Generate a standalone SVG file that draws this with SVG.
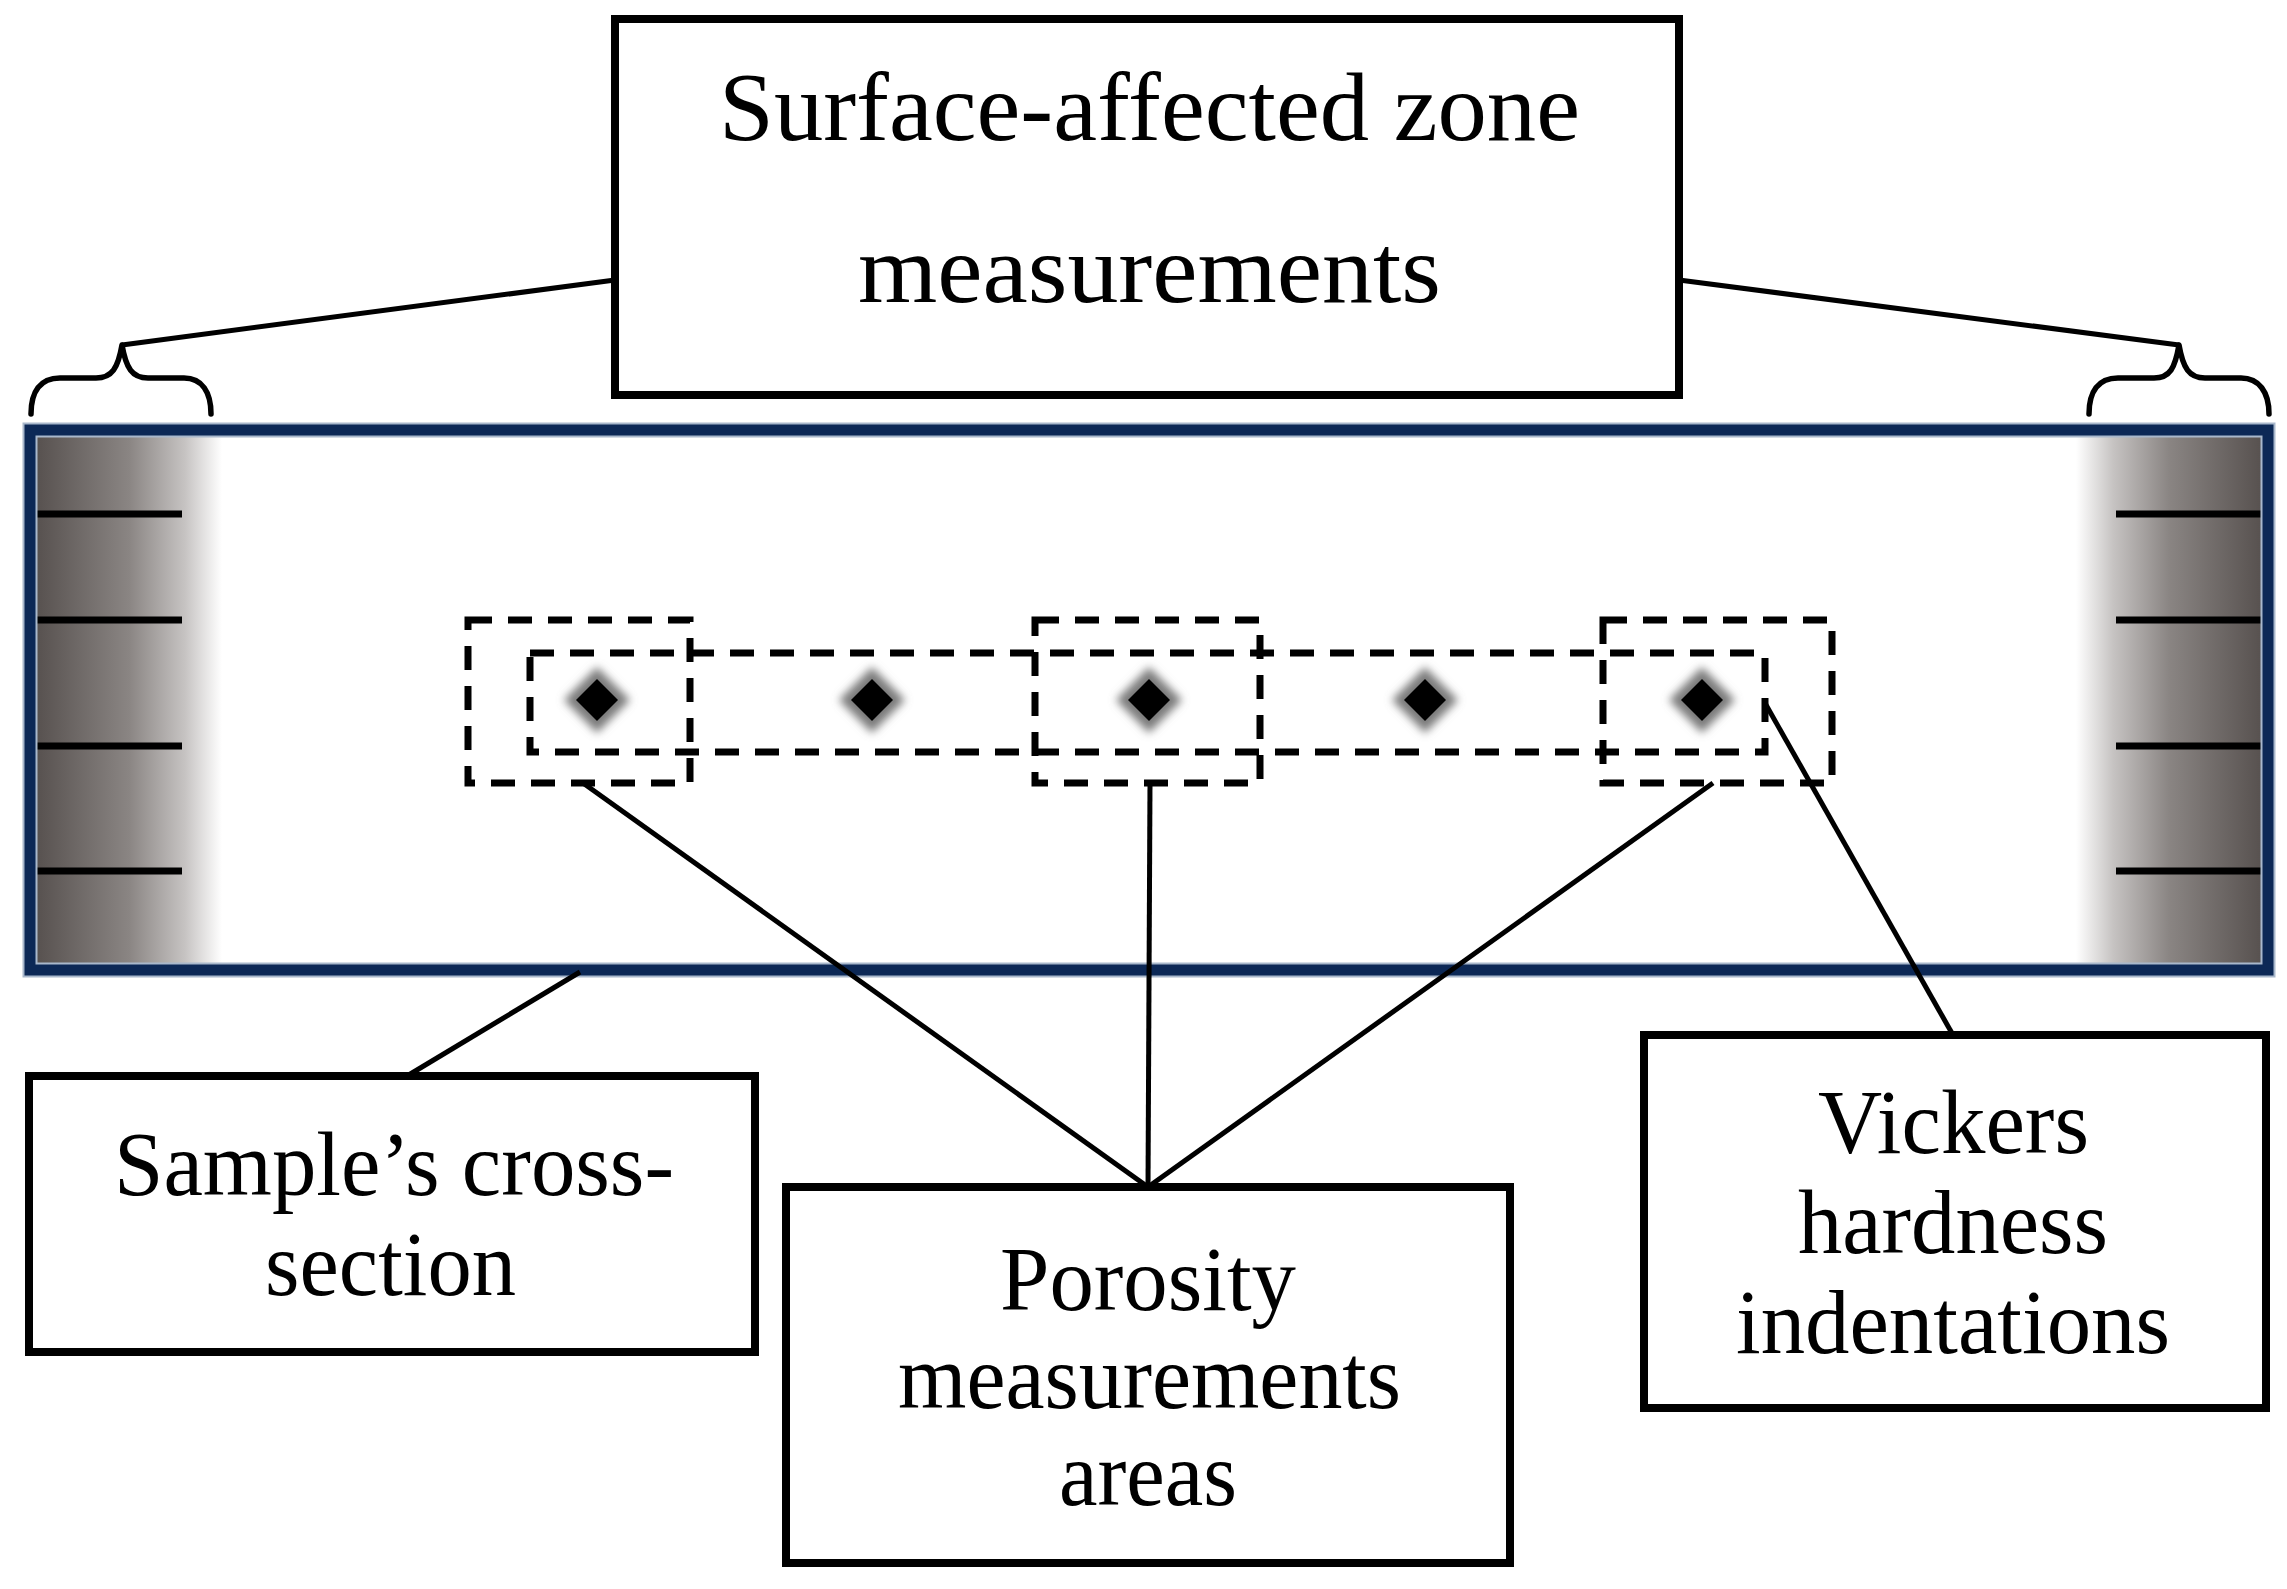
<svg xmlns="http://www.w3.org/2000/svg" width="2287" height="1589" viewBox="0 0 2287 1589">
<defs>
<style>
.box{fill:#fff;stroke:#000;stroke-width:8}
.lbl{font-family:"Liberation Serif","Times New Roman",serif;font-size:92px;fill:#000}
.top{font-size:98px}
.dash{fill:none;stroke:#000;stroke-width:7;stroke-dasharray:24 16}
.con{stroke:#000;stroke-width:5;fill:none}
.brace{stroke:#000;stroke-width:5.5;fill:none;stroke-linecap:round;stroke-linejoin:round}
.tick{stroke:#000;stroke-width:7}
</style>
<linearGradient id="gl" x1="0" y1="0" x2="1" y2="0">
<stop offset="0" stop-color="#57514f"/>
<stop offset="0.5" stop-color="#8a8583"/>
<stop offset="0.8" stop-color="#c6c3c2"/>
<stop offset="1" stop-color="#ffffff"/>
</linearGradient>
<linearGradient id="gr" x1="1" y1="0" x2="0" y2="0">
<stop offset="0" stop-color="#57514f"/>
<stop offset="0.5" stop-color="#8a8583"/>
<stop offset="0.8" stop-color="#c6c3c2"/>
<stop offset="1" stop-color="#ffffff"/>
</linearGradient>
<filter id="blur" x="-50%" y="-50%" width="200%" height="200%">
<feGaussianBlur stdDeviation="4"/>
</filter>
<g id="dia">
<path d="M0,-33 L33,0 L0,33 L-33,0 Z" fill="#7a7a7a" filter="url(#blur)"/>
<path d="M0,-21 L21,0 L0,21 L-21,0 Z" fill="#000"/>
</g>
</defs>
<rect width="2287" height="1589" fill="#fff"/>

<g id="sample">
<rect x="30" y="430" width="2238" height="540" fill="#fff"/>
<rect x="36" y="436" width="186" height="528" fill="url(#gl)"/>
<rect x="2076" y="436" width="186" height="528" fill="url(#gr)"/>
<g class="tick">
<line x1="32" y1="514" x2="182" y2="514"/>
<line x1="32" y1="620" x2="182" y2="620"/>
<line x1="32" y1="746" x2="182" y2="746"/>
<line x1="32" y1="871" x2="182" y2="871"/>
<line x1="2116" y1="514" x2="2266" y2="514"/>
<line x1="2116" y1="620" x2="2266" y2="620"/>
<line x1="2116" y1="746" x2="2266" y2="746"/>
<line x1="2116" y1="871" x2="2266" y2="871"/>
</g>
<rect x="30" y="430" width="2238" height="540" fill="none" stroke="#a9b8cc" stroke-width="15"/>
<rect x="30" y="430" width="2238" height="540" fill="none" stroke="#0c2856" stroke-width="11"/>
</g>

<g id="braces">
<path class="brace" d="M31,414 C31,392 40,378 60,378 L96,378 C112,378 118,368 122,345 C126,368 132,378 148,378 L184,378 C202,378 211,392 211,414"/>
<path class="brace" d="M2089,414 C2089,392 2098,378 2118,378 L2154,378 C2170,378 2175,368 2179,345 C2183,368 2189,378 2205,378 L2241,378 C2259,378 2269,392 2269,414"/>
</g>

<g id="areas">
<rect class="dash" x="468" y="620" width="222" height="163"/>
<rect class="dash" x="1035" y="620" width="225" height="163"/>
<rect class="dash" x="1603" y="620" width="229" height="163"/>
<rect class="dash" x="530" y="653" width="1235" height="99"/>
</g>

<g id="indentations">
<use href="#dia" x="597" y="700"/>
<use href="#dia" x="872" y="700"/>
<use href="#dia" x="1149" y="700"/>
<use href="#dia" x="1425" y="700"/>
<use href="#dia" x="1702" y="700"/>
</g>

<g id="connectors">
<line class="con" x1="122" y1="345" x2="615" y2="280"/>
<line class="con" x1="1679" y1="280" x2="2179" y2="345"/>
<line class="con" x1="583" y1="783" x2="1148" y2="1187"/>
<line class="con" x1="1150" y1="783" x2="1148" y2="1187"/>
<line class="con" x1="1713" y1="783" x2="1148" y2="1187"/>
<line class="con" x1="1765" y1="703" x2="1953" y2="1035"/>
<line class="con" x1="580" y1="972" x2="407" y2="1076"/>
</g>

<g id="node-surface">
<rect class="box" x="615" y="19" width="1064" height="376"/>
<text class="lbl top" x="719" y="140" textLength="861" lengthAdjust="spacingAndGlyphs">Surface-affected zone</text>
<text class="lbl top" x="858" y="302" textLength="583" lengthAdjust="spacingAndGlyphs">measurements</text>
</g>

<g id="node-sample">
<rect class="box" x="29" y="1076" width="726" height="276"/>
<text class="lbl" x="114" y="1195" textLength="560" lengthAdjust="spacingAndGlyphs">Sample’s cross-</text>
<text class="lbl" x="265" y="1295" textLength="251" lengthAdjust="spacingAndGlyphs">section</text>
</g>

<g id="node-porosity">
<rect class="box" x="786" y="1187" width="724" height="376"/>
<text class="lbl" x="1000" y="1310" textLength="296" lengthAdjust="spacingAndGlyphs">Porosity</text>
<text class="lbl" x="898" y="1408" textLength="503" lengthAdjust="spacingAndGlyphs">measurements</text>
<text class="lbl" x="1059" y="1505" textLength="178" lengthAdjust="spacingAndGlyphs">areas</text>
</g>

<g id="node-vickers">
<rect class="box" x="1644" y="1035" width="622" height="373"/>
<text class="lbl" x="1818" y="1153" textLength="271" lengthAdjust="spacingAndGlyphs">Vickers</text>
<text class="lbl" x="1798" y="1253" textLength="310" lengthAdjust="spacingAndGlyphs">hardness</text>
<text class="lbl" x="1736" y="1353" textLength="434" lengthAdjust="spacingAndGlyphs">indentations</text>
</g>
</svg>
